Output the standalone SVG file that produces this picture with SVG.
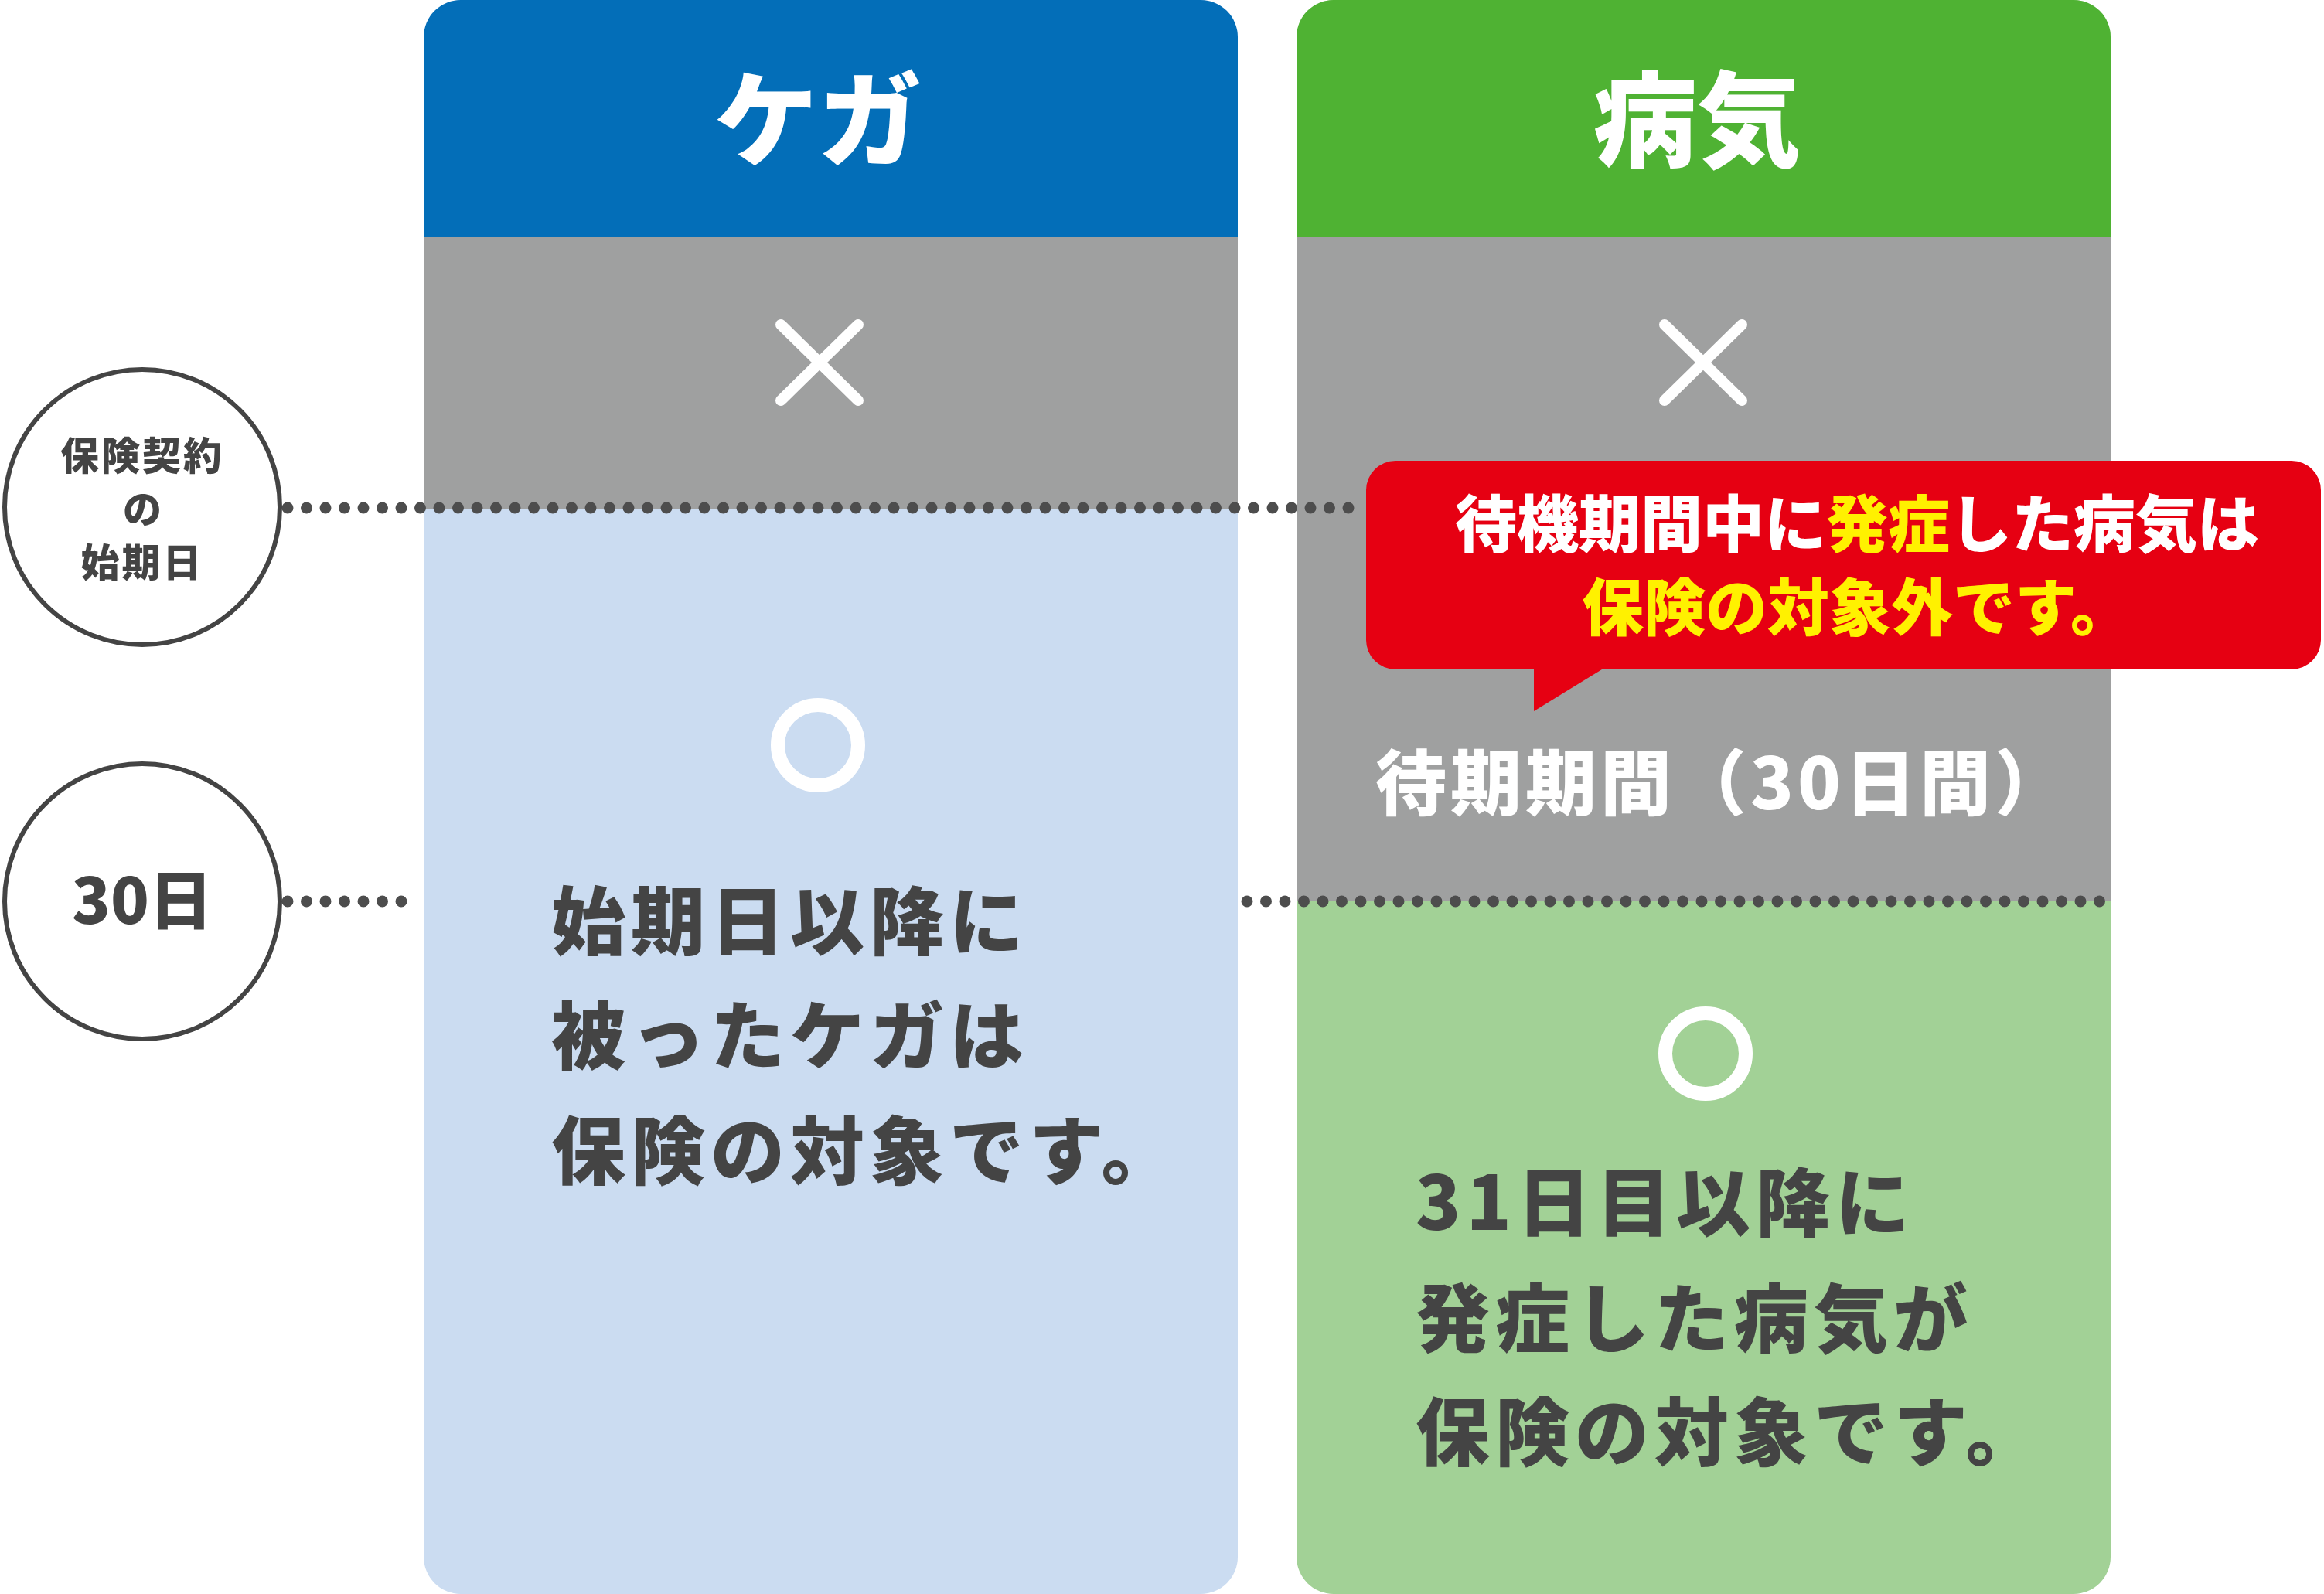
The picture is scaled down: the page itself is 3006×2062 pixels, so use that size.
<svg xmlns="http://www.w3.org/2000/svg" width="3006" height="2062" viewBox="0 0 3006 2062">
<style>
text{font-family:"Noto Sans CJK JP","Noto Sans CJK SC",sans-serif;font-weight:900}
.d{stroke:#4d4d4d;stroke-width:15;stroke-linecap:round;stroke-dasharray:0 24.5;fill:none}
.c{fill:#fff;stroke:#444;stroke-width:6}
.x{stroke:#fff;stroke-width:14;stroke-linecap:round}
.o{fill:none;stroke:#fff;stroke-width:18}
.b{fill:#444;font-size:96px;letter-spacing:7px}
</style>
<rect width="3006" height="2062" fill="#fff"/>
<g id="col-injury">
<clipPath id="cl"><rect x="548" y="0" width="1053" height="2062" rx="48"/></clipPath>
<g clip-path="url(#cl)">
<rect x="548" y="0" width="1053" height="2062" fill="#cbdcf1"/>
<rect x="548" y="0" width="1053" height="307" fill="#036eb8"/>
<rect x="548" y="307" width="1053" height="351" fill="#9fa0a0"/>
</g>
<text x="1058" y="205" font-size="134" fill="#fff" text-anchor="middle">ケガ</text>
<line class="x" x1="1010" y1="420" x2="1110" y2="518"/><line class="x" x1="1110" y1="420" x2="1010" y2="518"/>
<circle class="o" cx="1058" cy="964" r="52"/>
<text class="b" x="713" y="1227">始期日以降に</text>
<text class="b" x="713" y="1375">被ったケガは</text>
<text class="b" x="713" y="1524">保険の対象です。</text>
</g>
<g id="col-illness">
<clipPath id="cr"><rect x="1677" y="0" width="1053" height="2062" rx="48"/></clipPath>
<g clip-path="url(#cr)">
<rect x="1677" y="0" width="1053" height="2062" fill="#a2d196"/>
<rect x="1677" y="0" width="1053" height="307" fill="#4fb233"/>
<rect x="1677" y="307" width="1053" height="859" fill="#9fa0a0"/>
</g>
<text x="2195" y="205" font-size="134" fill="#fff" text-anchor="middle">病気</text>
<line class="x" x1="2153" y1="420" x2="2253" y2="518"/><line class="x" x1="2253" y1="420" x2="2153" y2="518"/>
<circle class="o" cx="2206" cy="1363" r="52"/>
<text x="1779" y="1047" font-size="92" fill="#fff" letter-spacing="5">待期期間（30日間）</text>
<text class="b" x="1831" y="1591">31日目以降に</text>
<text class="b" x="1831" y="1741">発症した病気が</text>
<text class="b" x="1831" y="1888">保険の対象です。</text>
</g>
<g id="connectors">
<line class="d" x1="372" y1="657" x2="1764" y2="657"/>
<line class="d" x1="372" y1="1166" x2="543" y2="1166"/>
<line class="d" x1="1613" y1="1166" x2="2736" y2="1166"/>
</g>
<g id="start-date">
<circle class="c" cx="184" cy="656" r="178"/>
<text x="184" y="608" font-size="50" fill="#444" text-anchor="middle" letter-spacing="3">保険契約</text>
<text x="184" y="677" font-size="50" fill="#444" text-anchor="middle">の</text>
<text x="184" y="746" font-size="50" fill="#444" text-anchor="middle" letter-spacing="3">始期日</text>
</g>
<g id="day30">
<circle class="c" cx="184" cy="1166" r="178"/>
<text x="184" y="1195" font-size="82" fill="#444" text-anchor="middle">30日</text>
</g>
<g id="callout">
<path d="M1805 596H2964a38 38 0 0 1 38 38V828a38 38 0 0 1-38 38H2072L1984 920V866H1805a38 38 0 0 1-38-38V634a38 38 0 0 1 38-38Z" fill="#e60012"/>
<text x="2402" y="707" font-size="80" fill="#fff" text-anchor="middle">待機期間中に<tspan fill="#fff100">発症</tspan>した病気は</text>
<text x="2402" y="815" font-size="80" fill="#fff100" text-anchor="middle">保険の対象外です。</text>
</g>
</svg>
